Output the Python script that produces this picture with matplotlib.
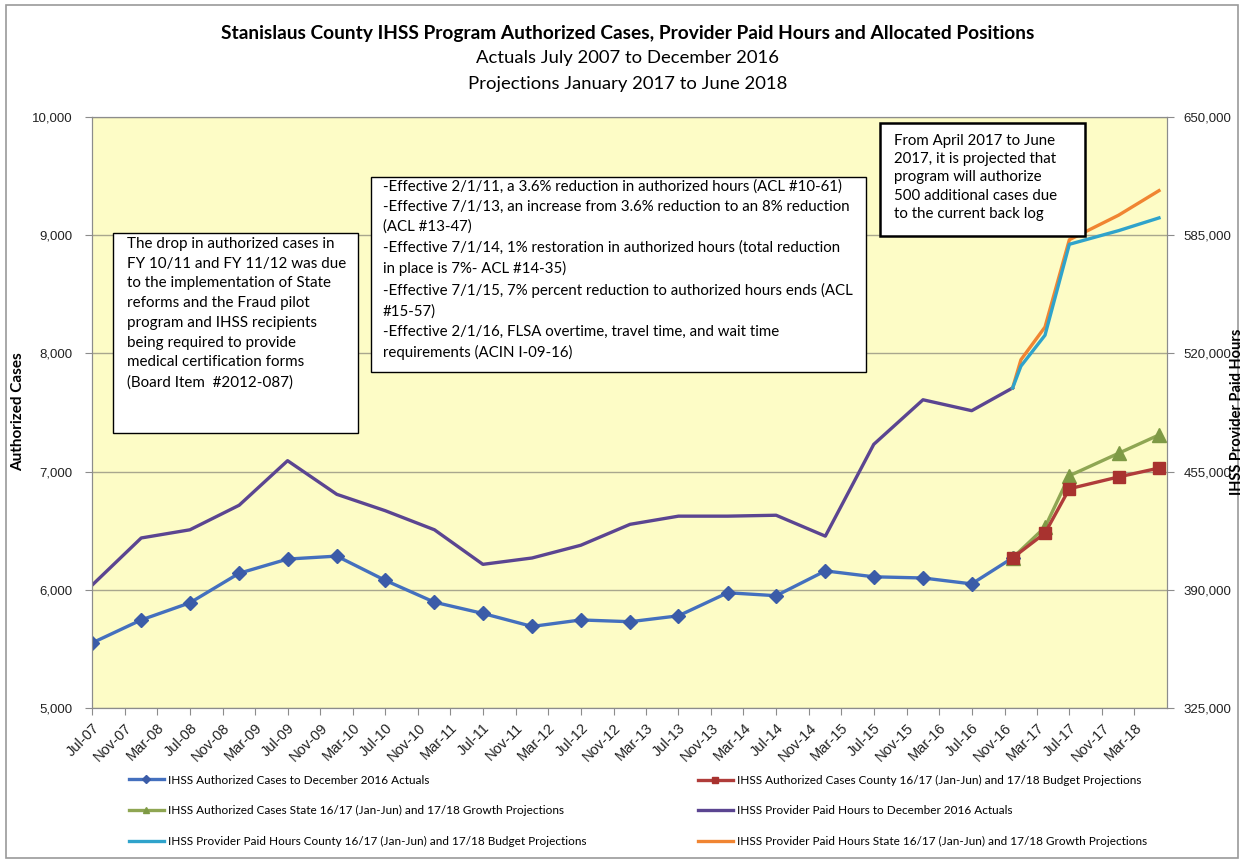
import matplotlib
matplotlib.use("Agg")
import matplotlib.pyplot as plt
from matplotlib.patches import Rectangle
from matplotlib.lines import Line2D
from matplotlib.ticker import FuncFormatter
import pandas as pd

# ---- data ----
actual_months = ["2007-07", "2008-01", "2008-07", "2009-01", "2009-07", "2010-01",
                 "2010-07", "2011-01", "2011-07", "2012-01", "2012-07", "2013-01",
                 "2013-07", "2014-01", "2014-07", "2015-01", "2015-07", "2016-01",
                 "2016-07", "2016-12"]
cases_actual = [5550, 5745, 5890, 6140, 6260, 6285, 6080, 5895, 5800, 5690, 5745, 5730,
                5780, 5975, 5950, 6160, 6110, 6100, 6050, 6270]
hours_actual = [392500, 418500, 423000, 436500, 461000, 442500, 433500, 423000, 404000,
                407500, 414500, 426000, 430500, 430500, 431000, 419500, 470000, 494500,
                488500, 501000]

proj_months = ["2016-12", "2017-04", "2017-07", "2018-01", "2018-06"]
cases_county = [6270, 6480, 6855, 6955, 7030]
cases_state = [6270, 6530, 6965, 7155, 7310]

proj_hours_months = ["2016-12", "2017-01", "2017-04", "2017-07", "2018-01", "2018-06"]
hours_county = [501000, 513000, 530000, 580000, 587500, 594500]
hours_state = [501000, 516500, 534500, 582500, 596000, 609500]

tick_months = pd.date_range("2007-07-01", "2018-03-01", freq="4MS")

labels = ["IHSS Authorized Cases to December 2016 Actuals",
          "IHSS Authorized Cases County 16/17 (Jan-Jun) and 17/18 Budget Projections",
          "IHSS Authorized Cases State 16/17 (Jan-Jun) and 17/18 Growth Projections",
          "IHSS Provider Paid Hours to December 2016 Actuals",
          "IHSS Provider Paid Hours County 16/17 (Jan-Jun) and 17/18 Budget Projections",
          "IHSS Provider Paid Hours State 16/17 (Jan-Jun) and 17/18 Growth Projections"]

note_left = ("The drop in authorized cases in\nFY 10/11 and FY 11/12 was due\n"
             "to the implementation of State\nreforms and the Fraud pilot\n"
             "program and IHSS recipients\nbeing required to provide\n"
             "medical certification forms\n(Board Item  #2012-087)")
note_mid = ("-Effective 2/1/11, a 3.6% reduction in authorized hours (ACL #10-61)\n"
            "-Effective 7/1/13, an increase from 3.6% reduction to an 8% reduction\n"
            "(ACL #13-47)\n"
            "-Effective 7/1/14, 1% restoration in authorized hours (total reduction\n"
            "in place is 7%- ACL #14-35)\n"
            "-Effective 7/1/15, 7% percent reduction to authorized hours ends (ACL\n"
            "#15-57)\n"
            "-Effective 2/1/16, FLSA overtime, travel time, and wait time\n"
            "requirements (ACIN I-09-16)")
note_right = ("From April 2017 to June\n2017, it is projected that\n"
              "program will authorize\n500 additional cases due\nto the current back log")

c_blue, c_red, c_green = "#4470BE", "#B03C3A", "#8FA653"
c_purple, c_cyan, c_orange = "#5B4591", "#2FA3CB", "#F08532"

to_dt = lambda m: pd.to_datetime(m).to_pydatetime()

W, H = 1244, 864
fig = plt.figure(figsize=(W / 100, H / 100), dpi=100)
ax = fig.add_axes([92 / W, 1 - 708 / H, (1167 - 92) / W, (708 - 117) / H])
ax2 = ax.twinx()

ax.set_facecolor("#FDFCC6")
ax.plot(to_dt(actual_months), cases_actual, color=c_blue, lw=2.4, marker="D",
        ms=7, mfc="#3B5CA8", mec="#3B5CA8", zorder=3)
ax.plot(to_dt(proj_months), cases_state, color=c_green, lw=2.4, marker="^",
        ms=10, mfc="#7E9A45", mec="#7E9A45", zorder=3)
ax.plot(to_dt(proj_months), cases_county, color=c_red, lw=2.4, marker="s",
        ms=9, mfc="#A8322F", mec="#A8322F", zorder=4)

ax2.plot(to_dt(actual_months), hours_actual, color=c_purple, lw=2.4)
ax2.plot(to_dt(proj_hours_months), hours_state, color=c_orange, lw=2.4)
ax2.plot(to_dt(proj_hours_months), hours_county, color=c_cyan, lw=2.4)

ax.set_ylim(5000, 10000)
ax.set_yticks(range(5000, 10001, 1000))
ax2.set_ylim(325000, 650000)
ax2.set_yticks(range(325000, 650001, 65000))
comma = FuncFormatter(lambda v, p: f"{int(v):,}")
ax.yaxis.set_major_formatter(comma)
ax2.yaxis.set_major_formatter(comma)

ax.set_xlim(pd.Timestamp("2007-07-01"), pd.Timestamp("2018-07-01"))
ax.set_xticks(tick_months.to_pydatetime())
ax.set_xticklabels([d.strftime("%b-%y") for d in tick_months], rotation=45,
                   ha="right", rotation_mode="anchor")

ax.yaxis.grid(True, color="#A9A78E", lw=1)
ax.set_axisbelow(True)
for a in (ax, ax2):
    for s in a.spines.values():
        s.set_color("#8C8C8C")
    a.tick_params(direction="out", length=5, color="#8C8C8C", labelsize=9.5,
                  labelfontfamily="Liberation Sans", labelcolor="#222222")
ax.tick_params(axis="x", pad=4, labelsize=10.5)
ax.tick_params(axis="y", pad=9)
ax2.tick_params(axis="y", pad=7)

fig.text(18 / W, 1 - 412 / H, "Authorized Cases", rotation=90, ha="center", va="center",
         fontsize=11, fontweight="bold", family="Lato")
fig.text(1237 / W, 1 - 412 / H, "IHSS Provider Paid Hours", rotation=90, ha="center",
         va="center", fontsize=10.5, fontweight="bold", family="Lato")

fig.text(628 / W, 1 - 33 / H, "Stanislaus County IHSS Program Authorized Cases, Provider "
         "Paid Hours and Allocated Positions", ha="center", va="center", fontsize=13.8,
         fontweight="bold", family="Lato")
fig.text(628 / W, 1 - 58 / H, "Actuals July 2007 to December 2016", ha="center",
         va="center", fontsize=13.3, family="Lato")
fig.text(628 / W, 1 - 84 / H, "Projections January 2017 to June 2018", ha="center",
         va="center", fontsize=13.3, family="Lato")

# annotation boxes
for (x0, y0, x1, y1, lw) in [(113, 233, 358, 433, 1.0), (371, 177, 866, 372, 1.0),
                             (880, 123, 1085, 236, 1.8)]:
    fig.add_artist(Rectangle((x0 / W, 1 - y1 / H), (x1 - x0) / W, (y1 - y0) / H,
                             transform=fig.transFigure, facecolor="white",
                             edgecolor="black", lw=lw, zorder=5))
fig.text(127 / W, 1 - 237 / H, note_left, ha="left", va="top", fontsize=10.9,
         family="Lato", linespacing=1.52, zorder=6)
fig.text(383 / W, 1 - 179 / H, note_mid, ha="left", va="top", fontsize=10.8,
         family="Lato", linespacing=1.55, zorder=6)
fig.text(894 / W, 1 - 134 / H, note_right, ha="left", va="top", fontsize=10.8,
         family="Lato", linespacing=1.38, zorder=6)

# legend in two columns
h_blue = Line2D([], [], color=c_blue, lw=2.4, marker="D", ms=4, mfc="#3B5CA8", mec="#3B5CA8")
h_red = Line2D([], [], color=c_red, lw=2.4, marker="s", ms=5, mfc="#A8322F", mec="#A8322F")
h_green = Line2D([], [], color=c_green, lw=2.4, marker="^", ms=5, mfc="#7E9A45", mec="#7E9A45")
h_purple = Line2D([], [], color=c_purple, lw=2.4)
h_cyan = Line2D([], [], color=c_cyan, lw=2.4)
h_orange = Line2D([], [], color=c_orange, lw=2.4)
leg_kw = dict(loc="upper left", frameon=False, handlelength=3.0, handletextpad=0.3,
              labelspacing=1.65, prop={"family": "Lato", "size": 8.5})
fig.legend([h_blue, h_green, h_cyan], [labels[0], labels[2], labels[4]],
           bbox_to_anchor=(118 / W, 1 - 764 / H), **leg_kw)
fig.legend([h_red, h_purple, h_orange], [labels[1], labels[3], labels[5]],
           bbox_to_anchor=(687 / W, 1 - 764 / H), **leg_kw)

fig.add_artist(Rectangle((6 / W, 6 / H), (W - 12) / W, (H - 11) / H,
                         transform=fig.transFigure, fill=False, edgecolor="#9A9A9A", lw=1.2))

fig.savefig("out.png", dpi=100)
